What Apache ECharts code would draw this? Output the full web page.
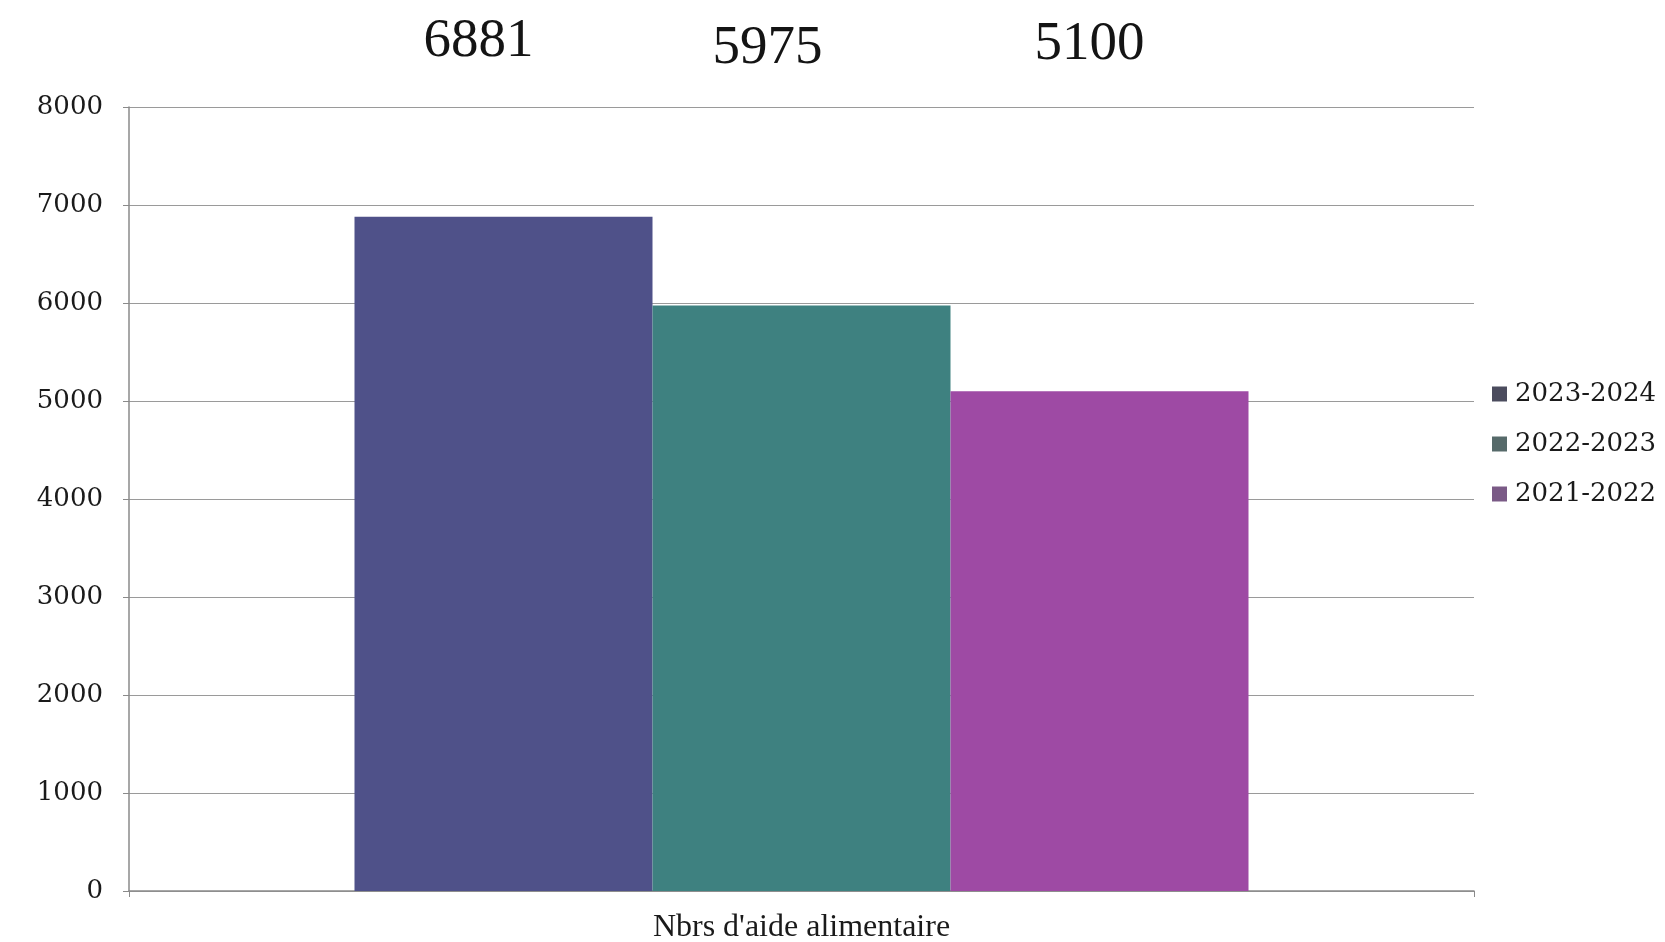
<!DOCTYPE html>
<html>
<head>
<meta charset="utf-8">
<title>Nbrs d'aide alimentaire</title>
<script src="https://cdn.jsdelivr.net/npm/echarts@6/dist/echarts.min.js"></script>
<style>
  html, body { margin: 0; padding: 0; background: #ffffff; }
  #chart { width: 1665px; height: 942px; }
</style>
</head>
<body>
<div id="chart"></div>
<script>
// Food-aid counts per season
const categories = ["Nbrs d'aide alimentaire"];
const seasons = ['2023-2024', '2022-2023', '2021-2022'];
const values = [6881, 5975, 5100];
const yTicks = [0, 1000, 2000, 3000, 4000, 5000, 6000, 7000, 8000];

const barColors = ['#4f5189', '#3e8180', '#9e4aa4'];
const legendColors = ['#4b4c5e', '#566a6a', '#7a5a86'];
// where each value caption sits, relative to its bar centre / the top of the chart
const captionShiftX = [-25, -34, -10];
const captionY = [42, 49, 45];

const BAR_W = 298;
const chart = echarts.init(document.getElementById('chart'), null, { renderer: 'canvas' });

function buildSeries(labelPos) {
  return seasons.map((name, i) => ({
    name: name,
    type: 'bar',
    barWidth: BAR_W,
    barGap: '0%',
    itemStyle: { color: barColors[i] },
    label: {
      show: true,
      position: labelPos ? labelPos[i] : 'top',
      align: 'center',
      verticalAlign: 'middle',
      fontFamily: 'Liberation Serif',
      fontSize: 55,
      color: '#141414',
      formatter: () => String(values[i])
    },
    data: [values[i]]
  }));
}

const option = {
  backgroundColor: '#ffffff',
  animation: false,
  grid: { left: 129, right: 191, top: 107, bottom: 51, containLabel: false, outerBoundsMode: 'none' },
  legend: {
    orient: 'vertical',
    left: 1492,
    top: 381,
    padding: 0,
    itemWidth: 15,
    itemHeight: 15,
    itemGap: 24,
    icon: 'rect',
    textStyle: { fontFamily: 'DejaVu Serif', fontSize: 26, color: '#1a1a1a', padding: [0, 0, 0, 3] },
    data: seasons.map((s, i) => ({ name: s, itemStyle: { color: legendColors[i] } }))
  },
  xAxis: {
    type: 'category',
    data: categories,
    axisLine: { lineStyle: { color: '#8a8a8a', width: 1.5 } },
    axisTick: { show: true, alignWithLabel: false, length: 6, lineStyle: { color: '#8a8a8a' } },
    axisLabel: { fontFamily: 'Liberation Serif', fontSize: 32, color: '#1a1a1a', margin: 21 }
  },
  yAxis: {
    type: 'value',
    min: yTicks[0],
    max: yTicks[yTicks.length - 1],
    interval: yTicks[1] - yTicks[0],
    axisLine: { show: true, lineStyle: { color: '#8a8a8a', width: 1.5 } },
    axisTick: { show: true, length: 6, lineStyle: { color: '#8a8a8a' } },
    axisLabel: {
      fontFamily: 'DejaVu Serif', fontSize: 26, color: '#1a1a1a', margin: 26,
      formatter: (v) => String(v)
    },
    splitLine: { show: true, lineStyle: { color: '#9a9a9a', width: 1.2 } }
  },
  series: buildSeries(null)
};

chart.setOption(option);

// place the value captions in a row above the plot, each tied to its own bar
const positions = seasons.map((s, i) => {
  const topY = chart.convertToPixel({ yAxisIndex: 0 }, values[i]);
  return [BAR_W / 2 + captionShiftX[i], captionY[i] - topY];
});
chart.setOption({ series: buildSeries(positions) });
</script>
</body>
</html>
